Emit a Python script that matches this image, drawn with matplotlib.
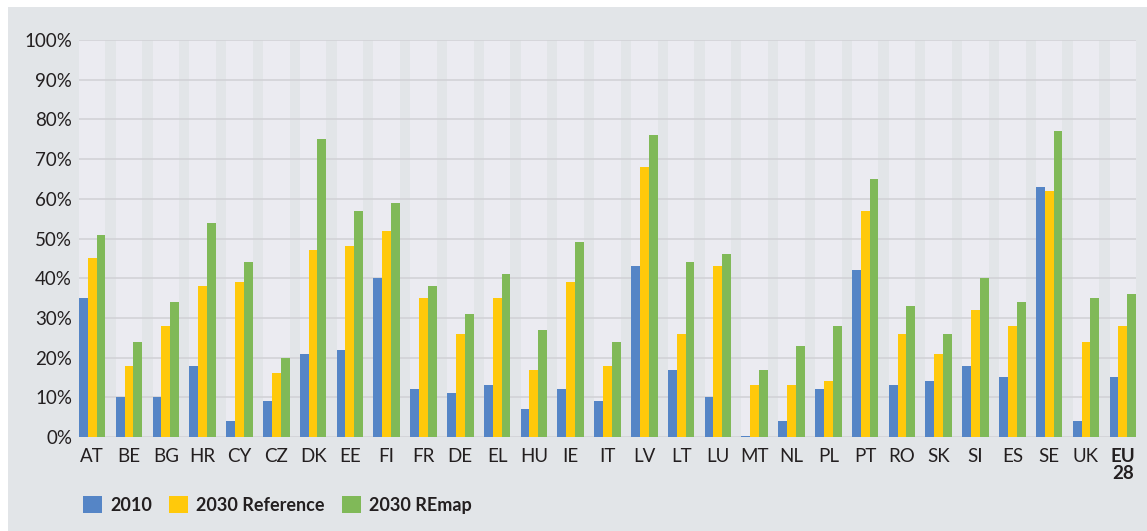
import matplotlib
matplotlib.use("Agg")
import matplotlib.pyplot as plt
from matplotlib.patches import Rectangle, Patch
import numpy as np

plt.rcParams['font.family'] = ['Lato', 'DejaVu Sans']

countries = ["AT", "BE", "BG", "HR", "CY", "CZ", "DK", "EE", "FI", "FR", "DE", "EL",
             "HU", "IE", "IT", "LV", "LT", "LU", "MT", "NL", "PL", "PT", "RO", "SK",
             "SI", "ES", "SE", "UK", "EU\n28"]
share_2010 = [35, 10, 10, 18, 4, 9, 21, 22, 40, 12, 11, 13, 7, 12, 9, 43, 17, 10,
              0.3, 4, 12, 42, 13, 14, 18, 15, 63, 4, 15]
share_2030_ref = [45, 18, 28, 38, 39, 16, 47, 48, 52, 35, 26, 35, 17, 39, 18, 68, 26, 43,
                  13, 13, 14, 57, 26, 21, 32, 28, 62, 24, 28]
share_2030_remap = [51, 24, 34, 54, 44, 20, 75, 57, 59, 38, 31, 41, 27, 49, 24, 76, 44, 46,
                    17, 23, 28, 65, 33, 26, 40, 34, 77, 35, 36]
series_names = ["2010", "2030 Reference", "2030 REmap"]
y_ticks = list(range(0, 101, 10))

c_blue = "#5585c6"
c_yellow = "#ffc90b"
c_green = "#80b958"
c_bg = "#e2e5e8"
c_panel = "#ebebf1"
c_grid = "#d2d2d7"
c_text = "#231f20"

W, H = 1147, 531
fig = plt.figure(figsize=(W / 100, H / 100), dpi=100, facecolor="white")
fig.patches.append(Rectangle((8 / W, 0), 1 - 8 / W, 1 - 7 / H, transform=fig.transFigure,
                             facecolor=c_bg, edgecolor="none", zorder=-10))

ax = fig.add_axes([79 / W, (H - 437) / H, (1136 - 79) / W, (437 - 40) / H])
ax.set_facecolor(c_bg)

x = np.arange(len(countries))
bw = 0.24
half = 0.36
for xi in x:
    ax.axvspan(xi - half, xi + half, color=c_panel, lw=0, zorder=0)

for yv in y_ticks:
    ax.axhline(yv, color=c_grid, lw=1.2, zorder=1)

ax.bar(x - bw, share_2010, bw, color=c_blue, zorder=2, align="center")
ax.bar(x, share_2030_ref, bw, color=c_yellow, zorder=2, align="center")
ax.bar(x + bw, share_2030_remap, bw, color=c_green, zorder=2, align="center")

ax.set_xlim(-half, len(countries) - 1 + half)
ax.set_ylim(0, 100)
ax.set_yticks(y_ticks)
ax.set_yticklabels([f"{v}%" for v in y_ticks])
ax.set_xticks(x)
ax.set_xticklabels(countries, va="top", linespacing=1.0)
for lab in ax.get_xticklabels():
    if "EU" in lab.get_text():
        lab.set_fontweight("bold")
ax.tick_params(axis="both", length=0, labelsize=13.5, colors=c_text)
ax.tick_params(axis="x", pad=8)
ax.tick_params(axis="y", pad=5)
for s in ax.spines.values():
    s.set_visible(False)

handles = [Patch(facecolor=c, edgecolor="none") for c in (c_blue, c_yellow, c_green)]
leg = fig.legend(handles, series_names, loc="center left",
                 bbox_to_anchor=(67 / W, (H - 505) / H), ncol=3, frameon=False,
                 handlelength=1.05, handleheight=1.05, handletextpad=0.45,
                 columnspacing=0.95, prop={"weight": "bold", "size": 13})
for t in leg.get_texts():
    t.set_color(c_text)

fig.savefig("out.png", dpi=100, facecolor="white")
